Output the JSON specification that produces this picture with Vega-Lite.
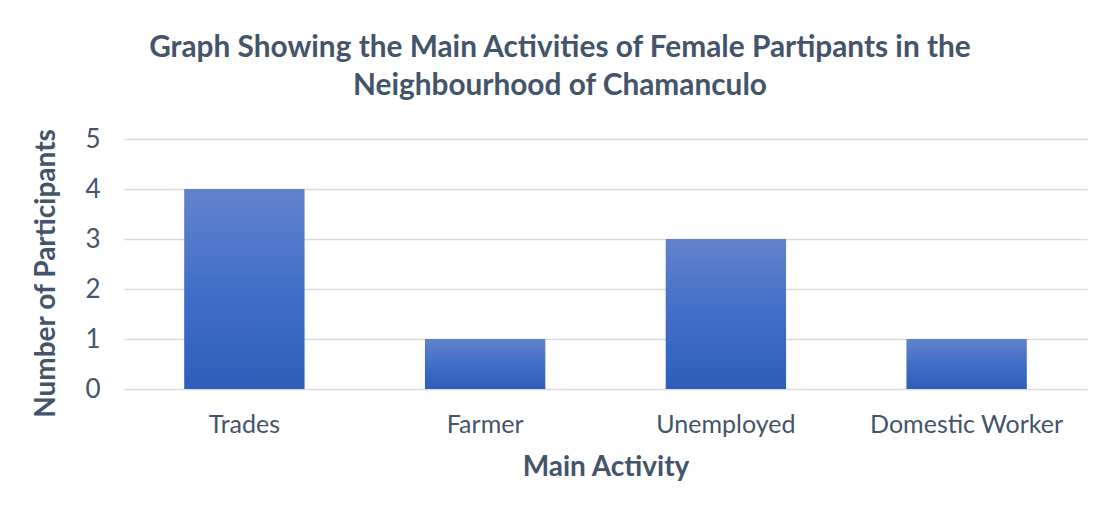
{
  "$schema": "https://vega.github.io/schema/vega-lite/v6.json",
  "width": 1110,
  "height": 511,
  "autosize": {"type": "fit", "contains": "padding"},
  "padding": {"left": 32, "top": 33, "right": 23, "bottom": 30},
  "background": "white",
  "title": {
    "text": ["Graph Showing the Main Activities of Female Partipants in the", "Neighbourhood of Chamanculo"],
    "font": "Lato",
    "fontSize": 29.8,
    "fontWeight": "bold",
    "color": "#44546A",
    "lineHeight": 38,
    "anchor": "middle",
    "frame": "bounds",
    "offset": 25
  },
  "data": {
    "values": [
      {"activity": "Trades", "count": 4},
      {"activity": "Farmer", "count": 1},
      {"activity": "Unemployed", "count": 3},
      {"activity": "Domestic Worker", "count": 1}
    ]
  },
  "mark": {
    "type": "bar",
    "color": {
      "gradient": "linear",
      "x1": 0, "y1": 0, "x2": 0, "y2": 1,
      "stops": [
        {"offset": 0, "color": "#6283CB"},
        {"offset": 0.5, "color": "#416FC8"},
        {"offset": 1, "color": "#2E5EB9"}
      ]
    }
  },
  "encoding": {
    "x": {
      "field": "activity",
      "type": "nominal",
      "sort": null,
      "title": "Main Activity",
      "scale": {"paddingInner": 0.5, "paddingOuter": 0.25},
      "axis": {
        "labelAngle": 0,
        "labelFont": "Lato",
        "labelFontSize": 25,
        "labelColor": "#44546A",
        "labelPadding": 23,
        "labelLimit": 0,
        "ticks": false,
        "domain": false,
        "titleFont": "Lato",
        "titleFontSize": 28,
        "titleFontWeight": "bold",
        "titleColor": "#44546A",
        "titlePadding": 16
      }
    },
    "y": {
      "field": "count",
      "type": "quantitative",
      "title": "Number of Participants",
      "scale": {"domain": [0, 5]},
      "axis": {
        "values": [0, 1, 2, 3, 4, 5],
        "format": "d",
        "labelFont": "Lato",
        "labelFontSize": 26,
        "labelColor": "#44546A",
        "labelPadding": 24,
        "ticks": false,
        "domain": false,
        "gridColor": "#D9D9D9",
        "gridWidth": 1.3,
        "titleFont": "Lato",
        "titleFontSize": 28,
        "titleFontWeight": "bold",
        "titleColor": "#44546A",
        "titlePadding": 24,
        "titleY": 134
      }
    }
  },
  "config": {
    "view": {"stroke": null}
  }
}
